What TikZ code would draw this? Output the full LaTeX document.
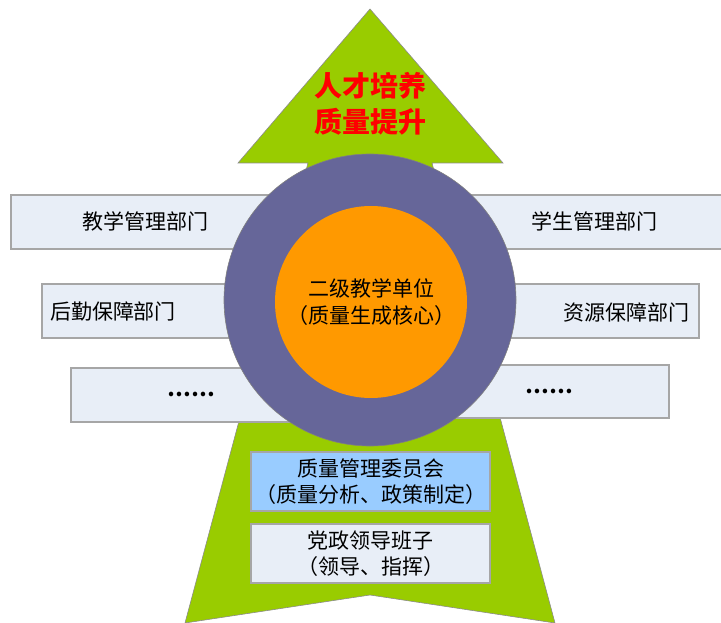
\documentclass[tikz,border=0pt]{standalone}
\usepackage{fontspec}
\setmainfont{Noto Sans CJK SC}
\usepackage{tikz}
\usetikzlibrary{positioning}
\definecolor{arrowgreen}{HTML}{99CC00}
\definecolor{ringpurple}{HTML}{666699}
\definecolor{coreorange}{HTML}{FF9900}
\definecolor{deptfill}{HTML}{E8EEF7}
\definecolor{deptline}{HTML}{A6A6A6}
\definecolor{boardblue}{HTML}{99CCFF}

\begin{document}
\begin{tikzpicture}[x=1pt, y=-1pt,
    deptbox/.style={draw=deptline, line width=1.4pt, fill=deptfill, rectangle, inner sep=0pt},
    deptlabel/.style={font=\fontsize{21}{27}\selectfont, inner sep=0pt},
    corebox/.style={draw=deptline, line width=1.4pt, rectangle, minimum width=239pt, minimum height=59pt, align=center, font=\fontsize{21}{26}\selectfont}]
    \useasboundingbox (0,0) rectangle (721,623);

    % Big arrow
    \filldraw[fill=arrowgreen, draw=black!45, line width=0.6pt]
        (370,9) -- (503,163) -- (432,163) -- (555,623) -- (370,595) -- (185,623) -- (308,163) -- (238,163) -- cycle;
    \node[text=red, align=center, font=\fontsize{28}{36}\selectfont\bfseries] (goal) at (370,104) {人才培养\\质量提升};

    % Define departments
    \node[deptbox, minimum width=713pt, minimum height=54pt] (row1) at (367.5,222) {};
    \node[deptbox, minimum width=657pt, minimum height=54pt] (row2) at (370.5,311) {};
    \node[deptbox, minimum width=329pt, minimum height=54pt] (row3l) at (235.5,395) {};
    \node[deptbox, minimum width=329pt, minimum height=53pt] (row3r) at (504.5,391.5) {};

    % Core unit
    \node[circle, draw=black!50, line width=0.6pt, fill=ringpurple, minimum size=292pt] (ring) at (370,300) {};
    \node[circle, fill=coreorange, minimum size=192pt, align=center, font=\fontsize{21}{27}\selectfont] (core) at (371,302) {二级教学单位\\（质量生成核心）};

    % Labels
    \node[deptlabel] (teach) at (145,221) {教学管理部门};
    \node[deptlabel] (student) at (594,221) {学生管理部门};
    \node[deptlabel] (logistic) at (113,312) {后勤保障部门};
    \node[deptlabel] (resource) at (626,312) {资源保障部门};
    \node[deptlabel, font=\fontsize{21}{27}\selectfont\bfseries] (morel) at (191,394) {……};
    \node[deptlabel, font=\fontsize{21}{27}\selectfont\bfseries] (morer) at (549,391) {……};

    % Leadership
    \node[corebox, fill=boardblue] (board) at (370.5,481.5) {质量管理委员会\\（质量分析、政策制定）};
    \node[corebox, fill=deptfill] (lead) at (370.5,553.5) {党政领导班子\\（领导、指挥）};
\end{tikzpicture}
\end{document}
